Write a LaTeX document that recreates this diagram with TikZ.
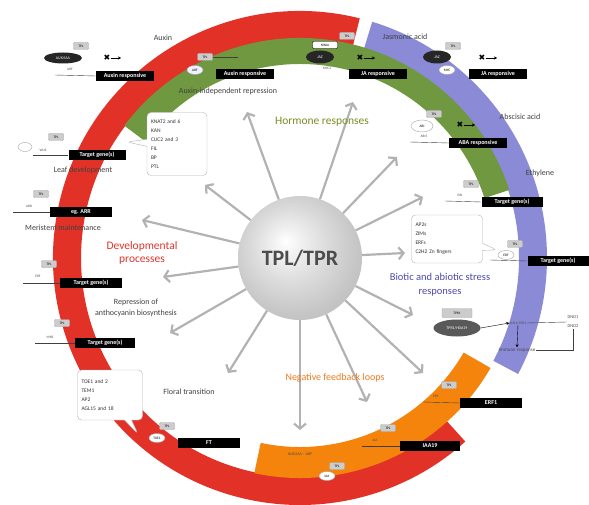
\documentclass[tikz,border=0pt]{standalone}
\usepackage{fontspec}
\setmainfont{Carlito}
\newfontfamily\symfont{DejaVu Sans}
\usepackage{xcolor}
\usepackage{tikz}
\usetikzlibrary{arrows.meta,shapes.geometric,shapes.callouts,positioning}

\definecolor{ringred}{RGB}{226,50,40}
\definecolor{ringgreen}{RGB}{112,152,64}
\definecolor{ringblue}{RGB}{138,138,214}
\definecolor{ringorange}{RGB}{244,132,12}
\definecolor{hormcol}{RGB}{118,142,34}
\definecolor{devcol}{RGB}{222,52,44}
\definecolor{stresscol}{RGB}{74,74,172}
\definecolor{fbcol}{RGB}{240,122,30}

\pgfdeclareradialshading{hubshade}{\pgfpoint{-6bp}{7bp}}{%
  color(0bp)=(white); color(5bp)=(gray!10); color(15bp)=(gray!28);
  color(26bp)=(gray!45); color(35bp)=(gray!55); color(50bp)=(gray!60)}

\begin{document}
\begin{tikzpicture}[x=1pt, y=-1pt,
  spoke/.style={draw=gray!60, line width=2.2pt, -{Straight Barb[length=5pt, width=12pt]}},
  hub/.style={circle, minimum size=124pt, inner sep=0pt, shading=hubshade,
    font=\fontsize{22}{24}\selectfont\bfseries, text=black!70},
  gene/.style={fill=black, text=white, font=\fontsize{6}{7}\selectfont\bfseries,
    minimum width=58pt, minimum height=10pt, inner sep=0pt},
  tplbox/.style={draw=gray!70, fill=gray!40, rounded corners=1pt, minimum width=15pt,
    minimum height=7pt, inner sep=0pt, font=\fontsize{3.5}{4}\selectfont},
  tf/.style={ellipse, draw=gray!70, fill=white, minimum width=16pt, minimum height=9pt,
    inner sep=0pt, font=\fontsize{3.5}{4}\selectfont},
  darktf/.style={ellipse, fill=black!85, text=white, minimum width=28pt, minimum height=13pt,
    inner sep=0pt, font=\fontsize{4}{5}\selectfont},
  tiny/.style={font=\fontsize{3.5}{4}\selectfont, text=black!70, inner sep=0.5pt},
  lbl/.style={font=\fontsize{8}{9}\selectfont, text=black!75, align=center},
  head/.style={font=\fontsize{11.5}{13}\selectfont, align=center},
  block/.style={font=\symfont\fontsize{8}{8}\selectfont, inner sep=0pt},
  blockarr/.style={-{Stealth[length=3pt, width=3pt]}, thin},
  promoter/.style={draw=gray!50!black, thin},
  listbox/.style={rectangle callout, draw=gray!60, fill=white, rounded corners=4pt,
    align=left, font=\fontsize{5.5}{9}\selectfont, inner sep=3pt, text=black!80}]

  \useasboundingbox (0,0) rectangle (589,505);

  % Coloured rings
  \begin{scope}[shift={(300,258)}]
    \fill[ringred] (-76:247) arc[start angle=-76, end angle=-312, radius=247]
      -- (-312:219) arc[start angle=-312, end angle=-76, radius=219] -- cycle;
    \fill[ringblue] (-73:247) arc[start angle=-73, end angle=28, radius=247]
      -- (28:219) arc[start angle=28, end angle=-73, radius=219] -- cycle;
    \fill[ringgreen] (-18:220) arc[start angle=-18, end angle=-143, radius=220]
      -- (-143:194) arc[start angle=-143, end angle=-18, radius=194] -- cycle;
    \fill[ringorange] (102:220) arc[start angle=102, end angle=30, radius=220]
      -- (30:189) arc[start angle=30, end angle=102, radius=189] -- cycle;
  \end{scope}

  % Hub and spokes
  \node[hub] (tpl) at (300,258) {TPL/TPR};
  \foreach \x/\y [count=\i] in {205/185, 142/220, 163/277, 170/333, 228/373, 300/430,
      367/402, 423/373, 413/315, 405/253, 423/197, 397/157, 353/102, 247/112} {
    \coordinate (s\i) at (\x,\y);
    \draw[spoke] (tpl) -- (s\i);
  }

  % Group headings
  \node[head, text=hormcol] (hormone) at (322,122) {Hormone responses};
  \node[head, text=devcol] (devel) at (142,253) {Developmental\\processes};
  \node[head, text=stresscol, font=\fontsize{10.5}{14}\selectfont] (stress) at (440,285)
    {Biotic and abiotic stress\\responses};
  \node[head, text=fbcol, font=\fontsize{10}{12}\selectfont] (feedback) at (335,378)
    {Negative feedback loops};

  % Process labels
  \node[lbl] (auxin) at (163,38) {Auxin};
  \node[lbl] (auxind) at (228,91) {Auxin-independent repression};
  \node[lbl] (jasm) at (405,37) {Jasmonic acid};
  \node[lbl] (absc) at (520,117) {Abscisic acid};
  \node[lbl] (ethy) at (540,173) {Ethylene};
  \node[lbl] (leaf) at (83,170) {Leaf development};
  \node[lbl] (meri) at (63,228) {Meristem maintenance};
  \node[lbl, font=\fontsize{8}{11}\selectfont] (antho) at (136,308)
    {Repression of\\anthocyanin biosynthesis};
  \node[lbl] (floral) at (189,392) {Floral transition};

  % Lists of interactors
  \node[listbox, text width=52pt, minimum width=60pt, minimum height=63pt,
    callout absolute pointer={(127,142)}] (devlist) at (177,144)
    {KNAT2 and 6\\KAN\\CUC2 and 3\\FIL\\BP\\PTL};
  \node[listbox, text width=63pt, minimum width=71pt, minimum height=48pt,
    callout absolute pointer={(497,250)}] (stresslist) at (447,239)
    {AP2s\\ZIMs\\ERFs\\C2H2 Zn fingers};
  \node[listbox, text width=57pt, minimum width=65pt, minimum height=50pt,
    callout absolute pointer={(138,434)}] (florlist) at (110,395)
    {TOE1 and 2\\TEM1\\AP2\\AGL15 and 18};

  % Auxin signalling
  \node[darktf, minimum width=38pt, minimum height=11pt] (auxiaa) at (63,58) {AUX/IAA};
  \node[tplbox] (tpla1) at (81,46) {TPL};
  \node[tiny] (arfa1) at (70,69) {ARF};
  \node[gene] (ga1) at (125,76) {Auxin responsive};
  \coordinate (pa1) at (55,75);
  \draw[promoter] (pa1) -- (ga1.west);
  \node[block] (xa1) at (107,58) {✖};
  \coordinate (ea1) at (121,58);
  \draw[blockarr] (xa1.east) -- (ea1);

  \node[tf, fill=blue!6] (arfa2) at (195,70) {ARF};
  \node[tplbox] (tpla2) at (205,57) {TPL};
  \coordinate (ta2) at (238,57);
  \draw[promoter] (tpla2.east) -- (ta2);
  \node[gene] (ga2) at (245,74) {Auxin responsive};

  % Jasmonate signalling
  \node[darktf] (jaz1) at (320,57) {JAZ};
  \node[draw=black, fill=white, rounded corners=1pt, minimum width=25pt, minimum height=7pt,
    inner sep=0pt, font=\fontsize{3.5}{4}\selectfont] (ninja) at (325,45) {NINJA};
  \node[tplbox] (tplj1) at (347,36) {TPL};
  \node[tiny] (myc1) at (327,68) {MYC2};
  \node[block] (xj1) at (360,58) {✖};
  \coordinate (ej1) at (375,58);
  \draw[blockarr] (xj1.east) -- (ej1);
  \node[gene] (gj1) at (378,74) {JA responsive};

  \node[darktf] (jaz2) at (437,57) {JAZ};
  \node[tplbox] (tplj2) at (453,46) {TPL};
  \node[tf] (myc2) at (447,70) {MYC};
  \node[block] (xj2) at (482,58) {✖};
  \coordinate (ej2) at (497,58);
  \draw[blockarr] (xj2.east) -- (ej2);
  \node[gene] (gj2) at (498,74) {JA responsive};

  % ABA signalling
  \node[tplbox] (tplab) at (434,114) {TPL};
  \node[tf, minimum width=22pt, minimum height=12pt] (abi) at (422,126) {ABI};
  \node[tiny] (abi5) at (424,136) {ABI5};
  \node[gene] (gab) at (478,143) {ABA responsive};
  \coordinate (pab) at (410,142);
  \draw[promoter] (pab) -- (gab.west);
  \node[block] (xab) at (460,125) {✖};
  \coordinate (eab) at (475,125);
  \draw[blockarr] (xab.east) -- (eab);

  % Developmental targets
  \node[tf, minimum width=14pt] (loop) at (25,147) {};
  \node[tplbox] (tplt1) at (56,137) {TPL};
  \node[tiny] (lt1) at (43,150) {WUS};
  \node[gene, minimum width=57pt] (gt1) at (97,155) {Target gene(s)};
  \coordinate (pt1) at (33,155);
  \draw[promoter] (pt1) -- (gt1.west);

  \node[tplbox] (tplt2) at (41,194) {TPL};
  \node[tiny] (lt2) at (29,206) {ARR};
  \node[gene, minimum width=62pt] (gt2) at (81,212) {eg. ARR};
  \coordinate (pt2) at (13,212);
  \draw[promoter] (pt2) -- (gt2.west);

  \node[tplbox] (tplt3) at (49,264) {TPL};
  \node[tiny] (lt3) at (38,276) {ERF};
  \node[gene, minimum width=62pt] (gt3) at (91,283) {Target gene(s)};
  \coordinate (pt3) at (23,283);
  \draw[promoter] (pt3) -- (gt3.west);

  \node[tplbox] (tplt4) at (62,323) {TPL};
  \node[tiny] (lt4) at (50,337) {MYB};
  \node[gene, minimum width=60pt] (gt4) at (105,343) {Target gene(s)};
  \coordinate (pt4) at (35,343);
  \draw[promoter] (pt4) -- (gt4.west);

  \node[tplbox] (tplft) at (167,426) {TPL};
  \node[tf] (toe) at (157,438) {TOE1};
  \node[gene, minimum width=62pt] (gft) at (209,443) {FT};

  % Stress targets
  \node[tplbox] (tplt5) at (471,184) {TPL};
  \node[tiny] (lt5) at (460,195) {EIN};
  \node[gene, minimum width=61pt] (gt5) at (512,202) {Target gene(s)};
  \coordinate (pt5) at (445,201);
  \draw[promoter] (pt5) -- (gt5.west);

  \node[tplbox] (tplt6) at (515,244) {TPL};
  \node[tf] (lt6) at (506,255) {ERF};
  \node[gene, minimum width=61pt] (gt6) at (558,261) {Target gene(s)};
  \coordinate (pt6) at (490,260);
  \draw[promoter] (pt6) -- (gt6.west);

  % Immune branch
  \node[darktf, fill=black!65, minimum width=47pt, minimum height=17pt] (hda) at (457,328) {TPR1/HDA19};
  \node[tplbox, minimum width=30pt, minimum height=9pt] (tpls) at (457,313) {TPR1};
  \node[tiny] (snc) at (518,323) {SNC1/TPR1};
  \draw[blockarr] (hda.east) -- (snc.west);
  \node[tiny, align=center, font=\fontsize{4.5}{9}\selectfont] (dnd) at (573,322) {DND1\\DND2};
  \draw[promoter] (snc.east) -- (dnd.west);
  \node[tiny, font=\fontsize{5}{6}\selectfont] (immune) at (517,350) {Immune response};
  \coordinate (br) at (573,350);
  \draw[promoter] (dnd.south) -- (br) -- (immune.east);
  \draw[blockarr] (snc.south) -- (immune.north);

  % Feedback targets
  \node[tplbox] (tplo1) at (449,385) {TPL};
  \node[tiny] (lo1) at (436,396) {ERF};
  \node[gene, minimum width=62pt] (go1) at (491,403) {ERF1};
  \coordinate (po1) at (423,402);
  \draw[promoter] (po1) -- (go1.west);

  \node[tplbox] (tplo2) at (388,428) {TPL};
  \node[tiny] (lo2) at (375,440) {IAA};
  \node[gene, minimum width=60pt] (go2) at (430,446) {IAA19};
  \coordinate (po2) at (362,446);
  \draw[promoter] (po2) -- (go2.west);

  \node[tplbox] (tplo3) at (337,466) {TPL};
  \node[tf] (lo3) at (327,476) {IAA};
  \node[tiny, font=\fontsize{4}{5}\selectfont] (auxarf) at (300,454) {AUX/IAA -- ARF};
\end{tikzpicture}
\end{document}
